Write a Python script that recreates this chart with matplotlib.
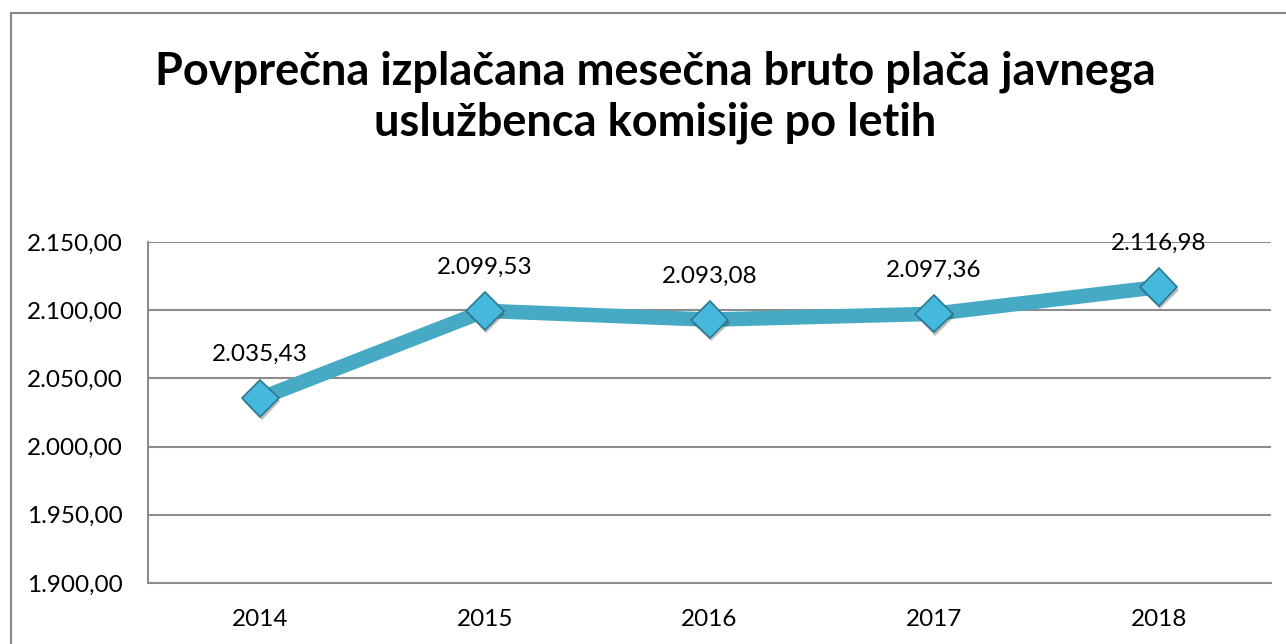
import matplotlib.pyplot as plt
import matplotlib.patches as patches
import matplotlib.patheffects as pe
from matplotlib.ticker import FuncFormatter

plt.rcParams['font.family'] = ['Lato', 'DejaVu Sans']

# --- data ---
years = ['2014', '2015', '2016', '2017', '2018']
placa = [2035.43, 2099.53, 2093.08, 2097.36, 2116.98]
y_ticks = [1900, 1950, 2000, 2050, 2100, 2150]

title = 'Povprečna izplačana mesečna bruto plača javnega\nuslužbenca komisije po letih'


def sl_num(v, pos=None):
    # slovenian number format: 2.035,43
    s = f'{v:,.2f}'
    return s.replace(',', 'X').replace('.', ',').replace('X', '.')


line_col = '#46AAC5'
grid_col = '#8C8C8C'

fig = plt.figure(figsize=(12.86, 6.44), dpi=100)
ax = fig.add_axes([148 / 1286, 1 - 583 / 644, (1271 - 148) / 1286, (583 - 242) / 644])

x = list(range(len(years)))
ax.plot(x, placa, color=line_col, lw=10.5, solid_capstyle='butt', zorder=3)
ax.plot(x, placa, ls='none', marker='D', ms=19, mfc='#45B8DE', mec='#2C7890', mew=1.2,
        zorder=4, path_effects=[pe.SimplePatchShadow(offset=(1.0, -2.2), shadow_rgbFace='#222222', alpha=0.3),
                                pe.Normal()])

for xi, v in zip(x, placa):
    ax.annotate(sl_num(v), (xi, v), xytext=(0, 31.5), textcoords='offset points',
                ha='center', va='center', fontsize=17.5, color='black', zorder=5)

ax.set_xlim(-0.5, len(years) - 0.5)
ax.set_ylim(y_ticks[0], y_ticks[-1])
ax.set_yticks(y_ticks)
ax.yaxis.set_major_formatter(FuncFormatter(sl_num))
ax.set_xticks(x)
ax.set_xticklabels(years)
ax.tick_params(length=0, labelsize=17.5, colors='black')
ax.tick_params(axis='y', pad=18)
ax.tick_params(axis='x', pad=19)
ax.grid(axis='y', color=grid_col, lw=1.5)
ax.set_axisbelow(True)
for s in ['top', 'right']:
    ax.spines[s].set_visible(False)
for s in ['left', 'bottom']:
    ax.spines[s].set_color(grid_col)
    ax.spines[s].set_linewidth(1.5)

fig.text(655 / 1286, 1 - 97 / 644, title, ha='center', va='center', fontsize=32.5,
         fontweight='bold', linespacing=1.25)

# chart frame
fig.patches.append(patches.Rectangle((11 / 1286, -0.1), 1.1, 1.1 - 13 / 644, transform=fig.transFigure,
                                     fill=False, edgecolor='#888888', lw=1.5))

fig.savefig('out.png', dpi=100)
